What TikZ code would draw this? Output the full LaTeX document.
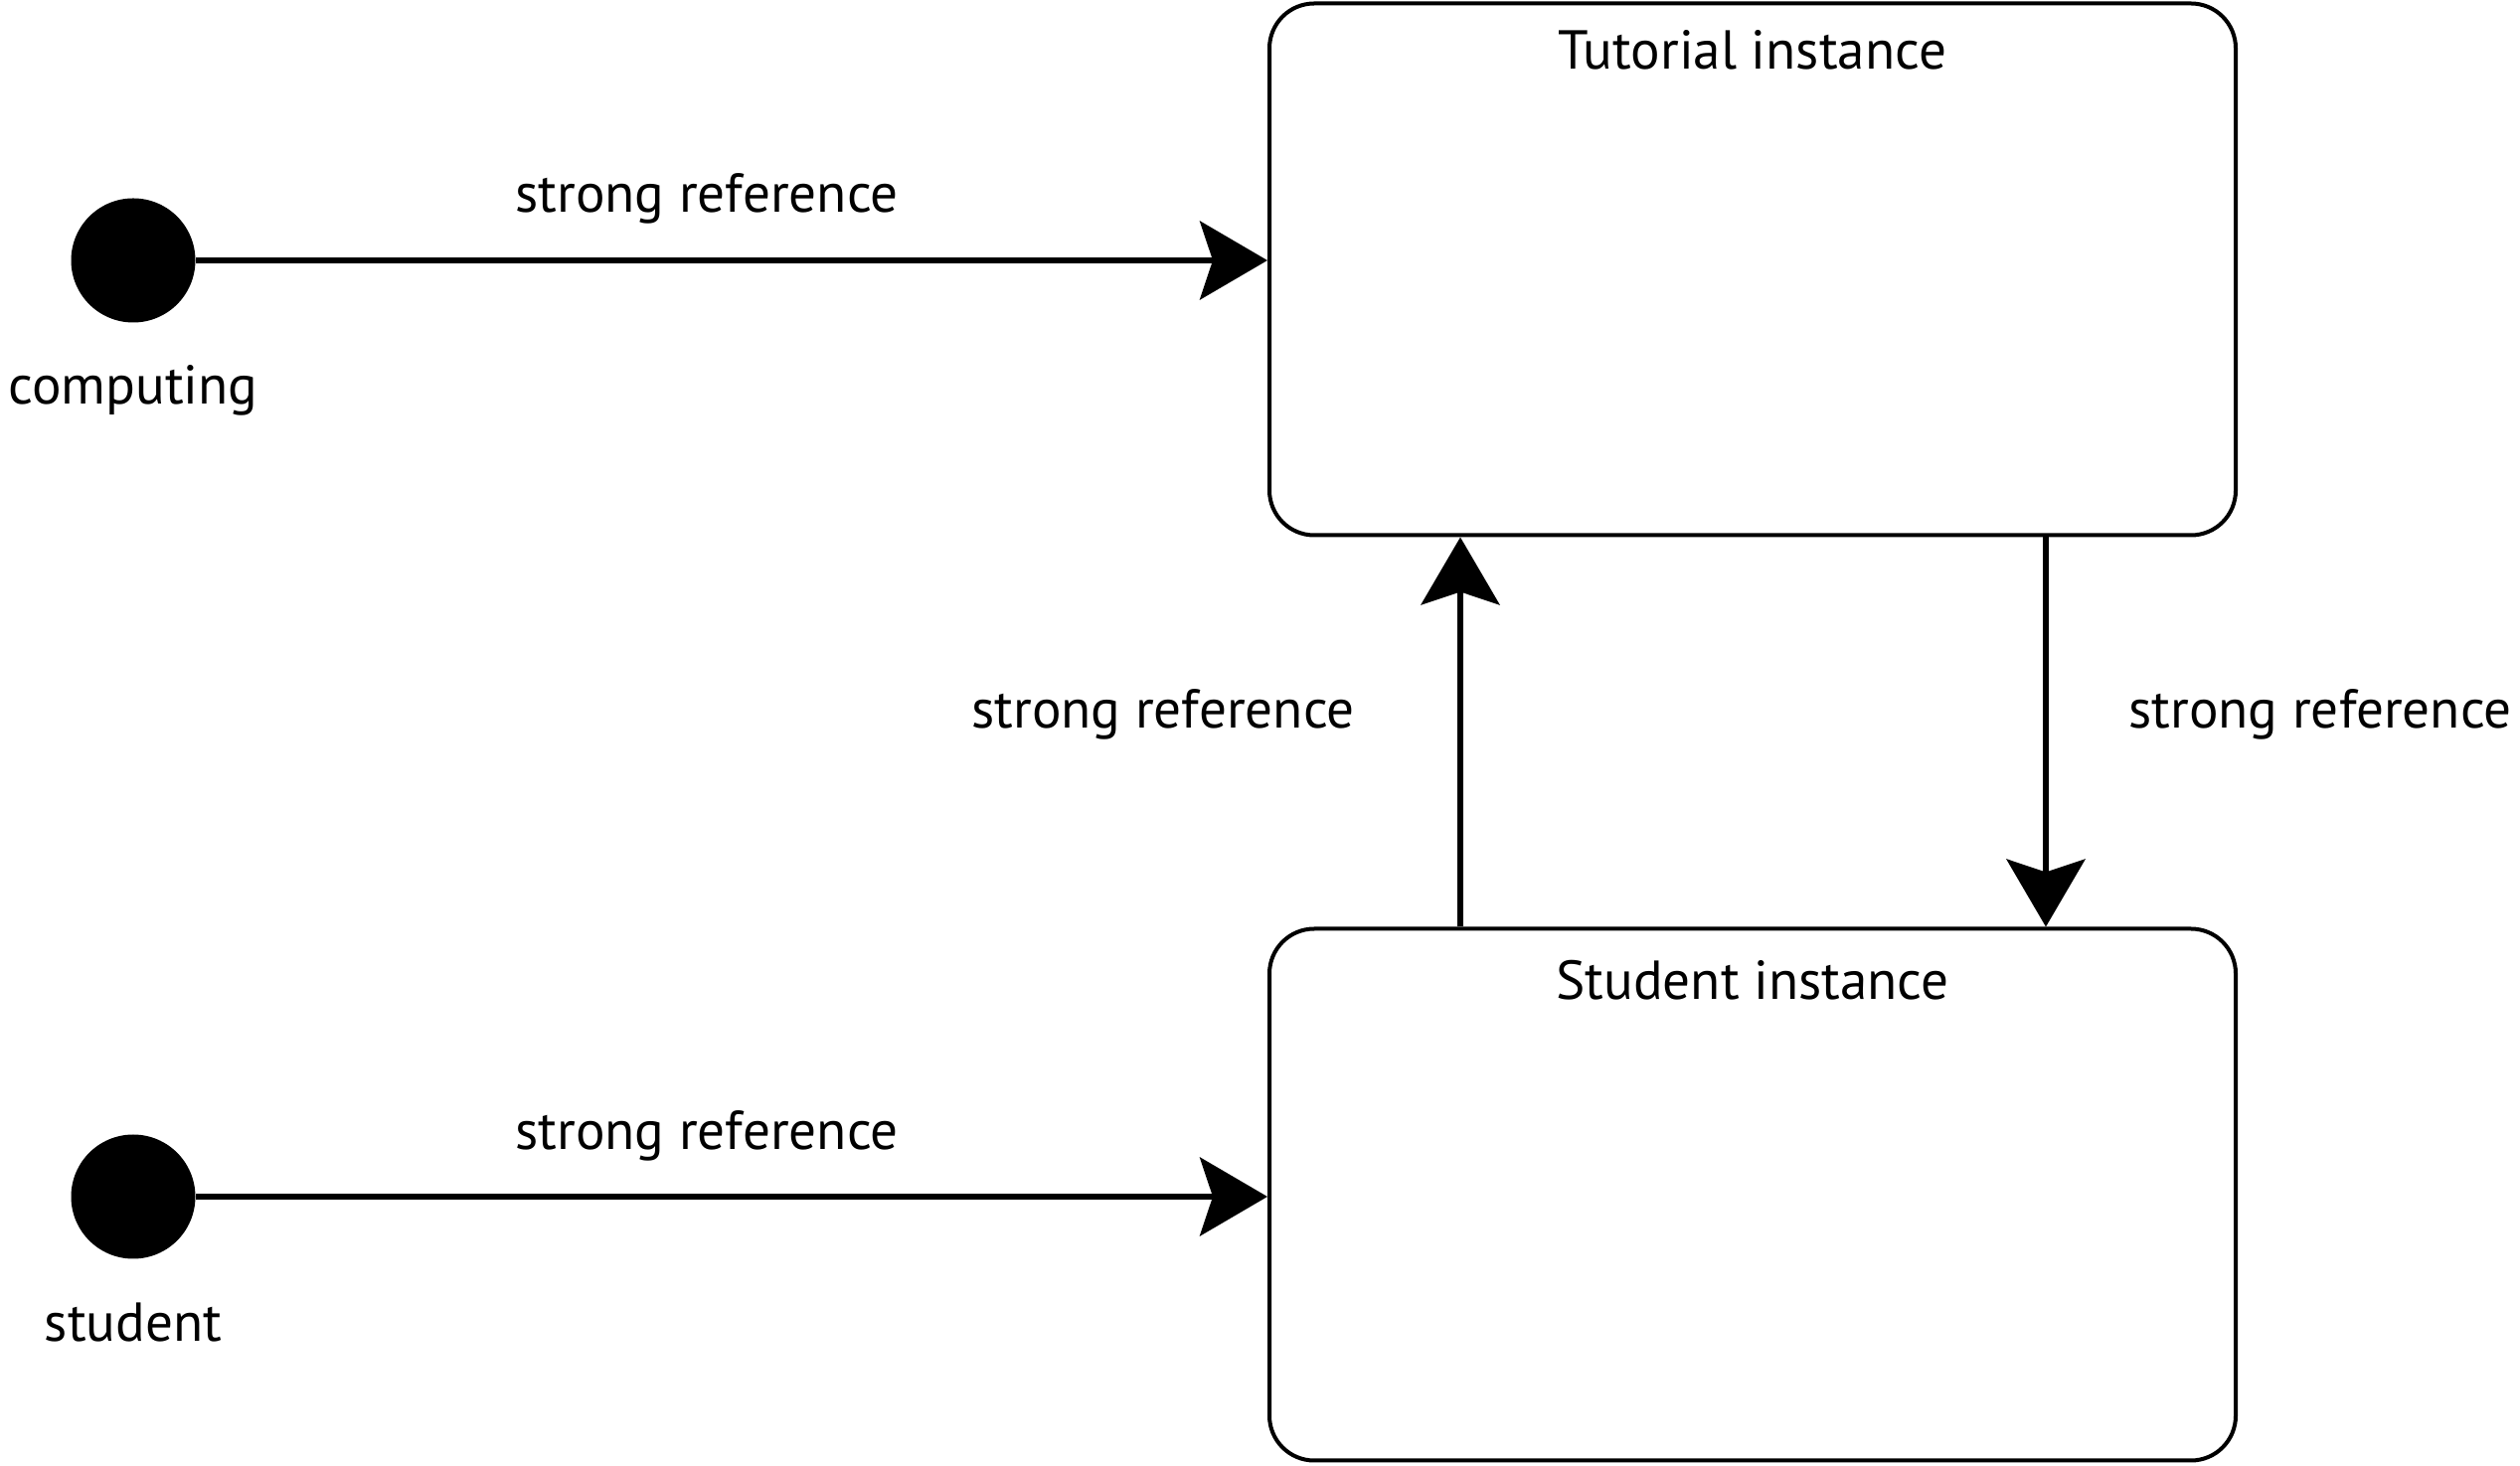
\documentclass[tikz,border=0pt]{standalone}
\usepackage{fontspec}
\setmainfont{PT Sans}
\usetikzlibrary{arrows.meta}

\begin{document}
\begin{tikzpicture}[x=0.1mm, y=-0.1mm,
    every node/.style={font=\fontsize{15.7}{18}\selectfont},
    endpoint/.style={circle, fill=black, inner sep=0pt, minimum size=12.5mm},
    instance/.style={draw, line width=0.4mm, rounded corners=4.5mm,
        minimum width=97.2mm, minimum height=53.5mm},
    ref/.style={line width=0.6mm, -{Stealth[length=6.8mm, width=7.9mm, inset=1.3mm]}}]

    \useasboundingbox (0,0) rectangle (2535,1475);

    % Define the two instance boxes
    \node[instance] (tut) at (1763,271) {};
    \node[instance] (stu) at (1763,1202) {};
    \node (tuttitle) at (1763,50) {Tutorial instance};
    \node (stutitle) at (1763,986) {Student instance};

    % Define the variables pointing at them
    \node[endpoint] (comp) at (134,262) {};
    \node[endpoint] (stud) at (134,1204) {};
    \node (complabel) at (134,393) {computing};
    \node (studlabel) at (134,1331) {student};

    % Draw the references
    \draw[ref] (comp) -- (comp -| tut.west);
    \draw[ref] (stud) -- (stud -| stu.west);
    \draw[ref] ([xshift=19.4mm]stu.north west) -- ([xshift=19.4mm]tut.south west);
    \draw[ref] ([xshift=-19.3mm]tut.south east) -- ([xshift=-19.3mm]stu.north east);

    \node (refa) at (711,200) {strong reference};
    \node (refb) at (711,1143) {strong reference};
    \node (refc) at (1170,719) {strong reference};
    \node (refd) at (2334,719) {strong reference};
\end{tikzpicture}
\end{document}
